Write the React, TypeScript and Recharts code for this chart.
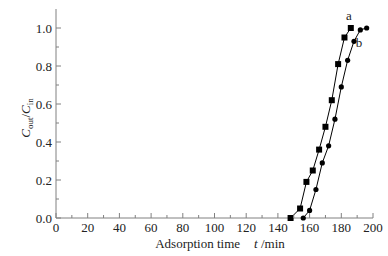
import { LineChart, Line, XAxis, YAxis, LabelList } from "recharts";

const timeA = [148, 154, 158, 162, 166, 170, 174, 178, 182, 186];
const ratioA = [0, 0.05, 0.19, 0.25, 0.36, 0.48, 0.62, 0.81, 0.95, 1.0];
const timeB = [156, 160, 164, 168, 172, 176, 180, 184, 188, 192, 196];
const ratioB = [0, 0.04, 0.15, 0.29, 0.38, 0.52, 0.69, 0.83, 0.93, 0.99, 1.0];

const xTicks = [0, 10, 20, 30, 40, 50, 60, 70, 80, 90, 100, 110, 120, 130, 140, 150, 160, 170, 180, 190, 200];
const xMajor = [0, 20, 40, 60, 80, 100, 120, 140, 160, 180, 200];
const yTicks = [0, 0.1, 0.2, 0.3, 0.4, 0.5, 0.6, 0.7, 0.8, 0.9, 1.0];
const yMajor = [0, 0.2, 0.4, 0.6, 0.8, 1.0];

const seriesA = timeA.map((t, i) => ({ t, v: ratioA[i] }));
const seriesB = timeB.map((t, i) => ({ t, v: ratioB[i] }));

const AXIS = "#808080";
const TXT = { fontFamily: "'Liberation Serif', serif", fontSize: 13, fill: "#222" };

function XTick({ x, y, payload }: any) {
  const major = xMajor.includes(payload.value);
  return (
    <g>
      <line x1={x} y1={y} x2={x} y2={y - (major ? 5 : 3)} stroke={AXIS} />
      {major && (
        <text x={x} y={y + 14} textAnchor="middle" style={TXT}>
          {payload.value}
        </text>
      )}
    </g>
  );
}

function YTick({ x, y, payload }: any) {
  const major = yMajor.some((m) => Math.abs(m - payload.value) < 1e-6);
  return (
    <g>
      <line x1={x} y1={y} x2={x + (major ? 5 : 3)} y2={y} stroke={AXIS} />
      {major && (
        <text x={x - 4} y={y + 4.5} textAnchor="end" style={TXT}>
          {payload.value.toFixed(1)}
        </text>
      )}
    </g>
  );
}

function Square({ cx, cy }: any) {
  return <rect x={cx - 3} y={cy - 3} width={6} height={6} fill="#000" />;
}

function Dot({ cx, cy }: any) {
  return <circle cx={cx} cy={cy} r={2.6} fill="#000" />;
}

export default function App() {
  return (
    <div style={{ position: "absolute", left: 0, top: 0, width: 388, height: 256, background: "#fff" }}>
      <LineChart width={388} height={256} margin={{ top: 9, right: 15, left: 0, bottom: 0 }}>
        <XAxis
          dataKey="t"
          type="number"
          domain={[0, 200]}
          ticks={xTicks}
          interval={0}
          tick={<XTick />}
          tickLine={false}
          tickSize={0}
          tickMargin={0}
          axisLine={{ stroke: AXIS }}
          height={38}
          allowDuplicatedCategory={false}
        />
        <XAxis xAxisId="top" orientation="top" type="number" domain={[0, 200]} tick={false} tickLine={false} axisLine={{ stroke: AXIS }} height={0} />
        <YAxis
          type="number"
          domain={[0, 1.1]}
          ticks={yTicks}
          interval={0}
          tick={<YTick />}
          tickLine={false}
          tickSize={0}
          tickMargin={0}
          axisLine={{ stroke: AXIS }}
          width={56}
        />
        <YAxis yAxisId="right" orientation="right" type="number" domain={[0, 1.1]} tick={false} tickLine={false} axisLine={{ stroke: AXIS }} width={0} />
        <Line data={seriesA} dataKey="v" stroke="#000" strokeWidth={1} dot={<Square />} isAnimationActive={false}>
          <LabelList
            dataKey="v"
            content={(p: any) =>
              p.index === timeA.length - 1 ? (
                <text x={p.x - 2} y={p.y - 8} textAnchor="middle" style={TXT}>a</text>
              ) : null
            }
          />
        </Line>
        <Line data={seriesB} dataKey="v" stroke="#000" strokeWidth={1} dot={<Dot />} isAnimationActive={false}>
          <LabelList
            dataKey="v"
            content={(p: any) =>
              p.index === 8 ? (
                <text x={p.x + 5} y={p.y + 6} textAnchor="middle" style={TXT}>b</text>
              ) : null
            }
          />
        </Line>
      </LineChart>
      <svg width={388} height={256} style={{ position: "absolute", left: 0, top: 0, pointerEvents: "none" }}>
        <text x={220} y={248} textAnchor="middle" style={TXT}>
          Adsorption time
          <tspan dx={14} fontStyle="italic">t</tspan>
          <tspan> /min</tspan>
        </text>
        <text transform="translate(30,118) rotate(-90)" textAnchor="middle" style={TXT}>
          <tspan fontStyle="italic">C</tspan>
          <tspan fontSize={9} dy={3}>out</tspan>
          <tspan dy={-3}>/</tspan>
          <tspan fontStyle="italic">C</tspan>
          <tspan fontSize={9} dy={3}>in</tspan>
        </text>
      </svg>
    </div>
  );
}
